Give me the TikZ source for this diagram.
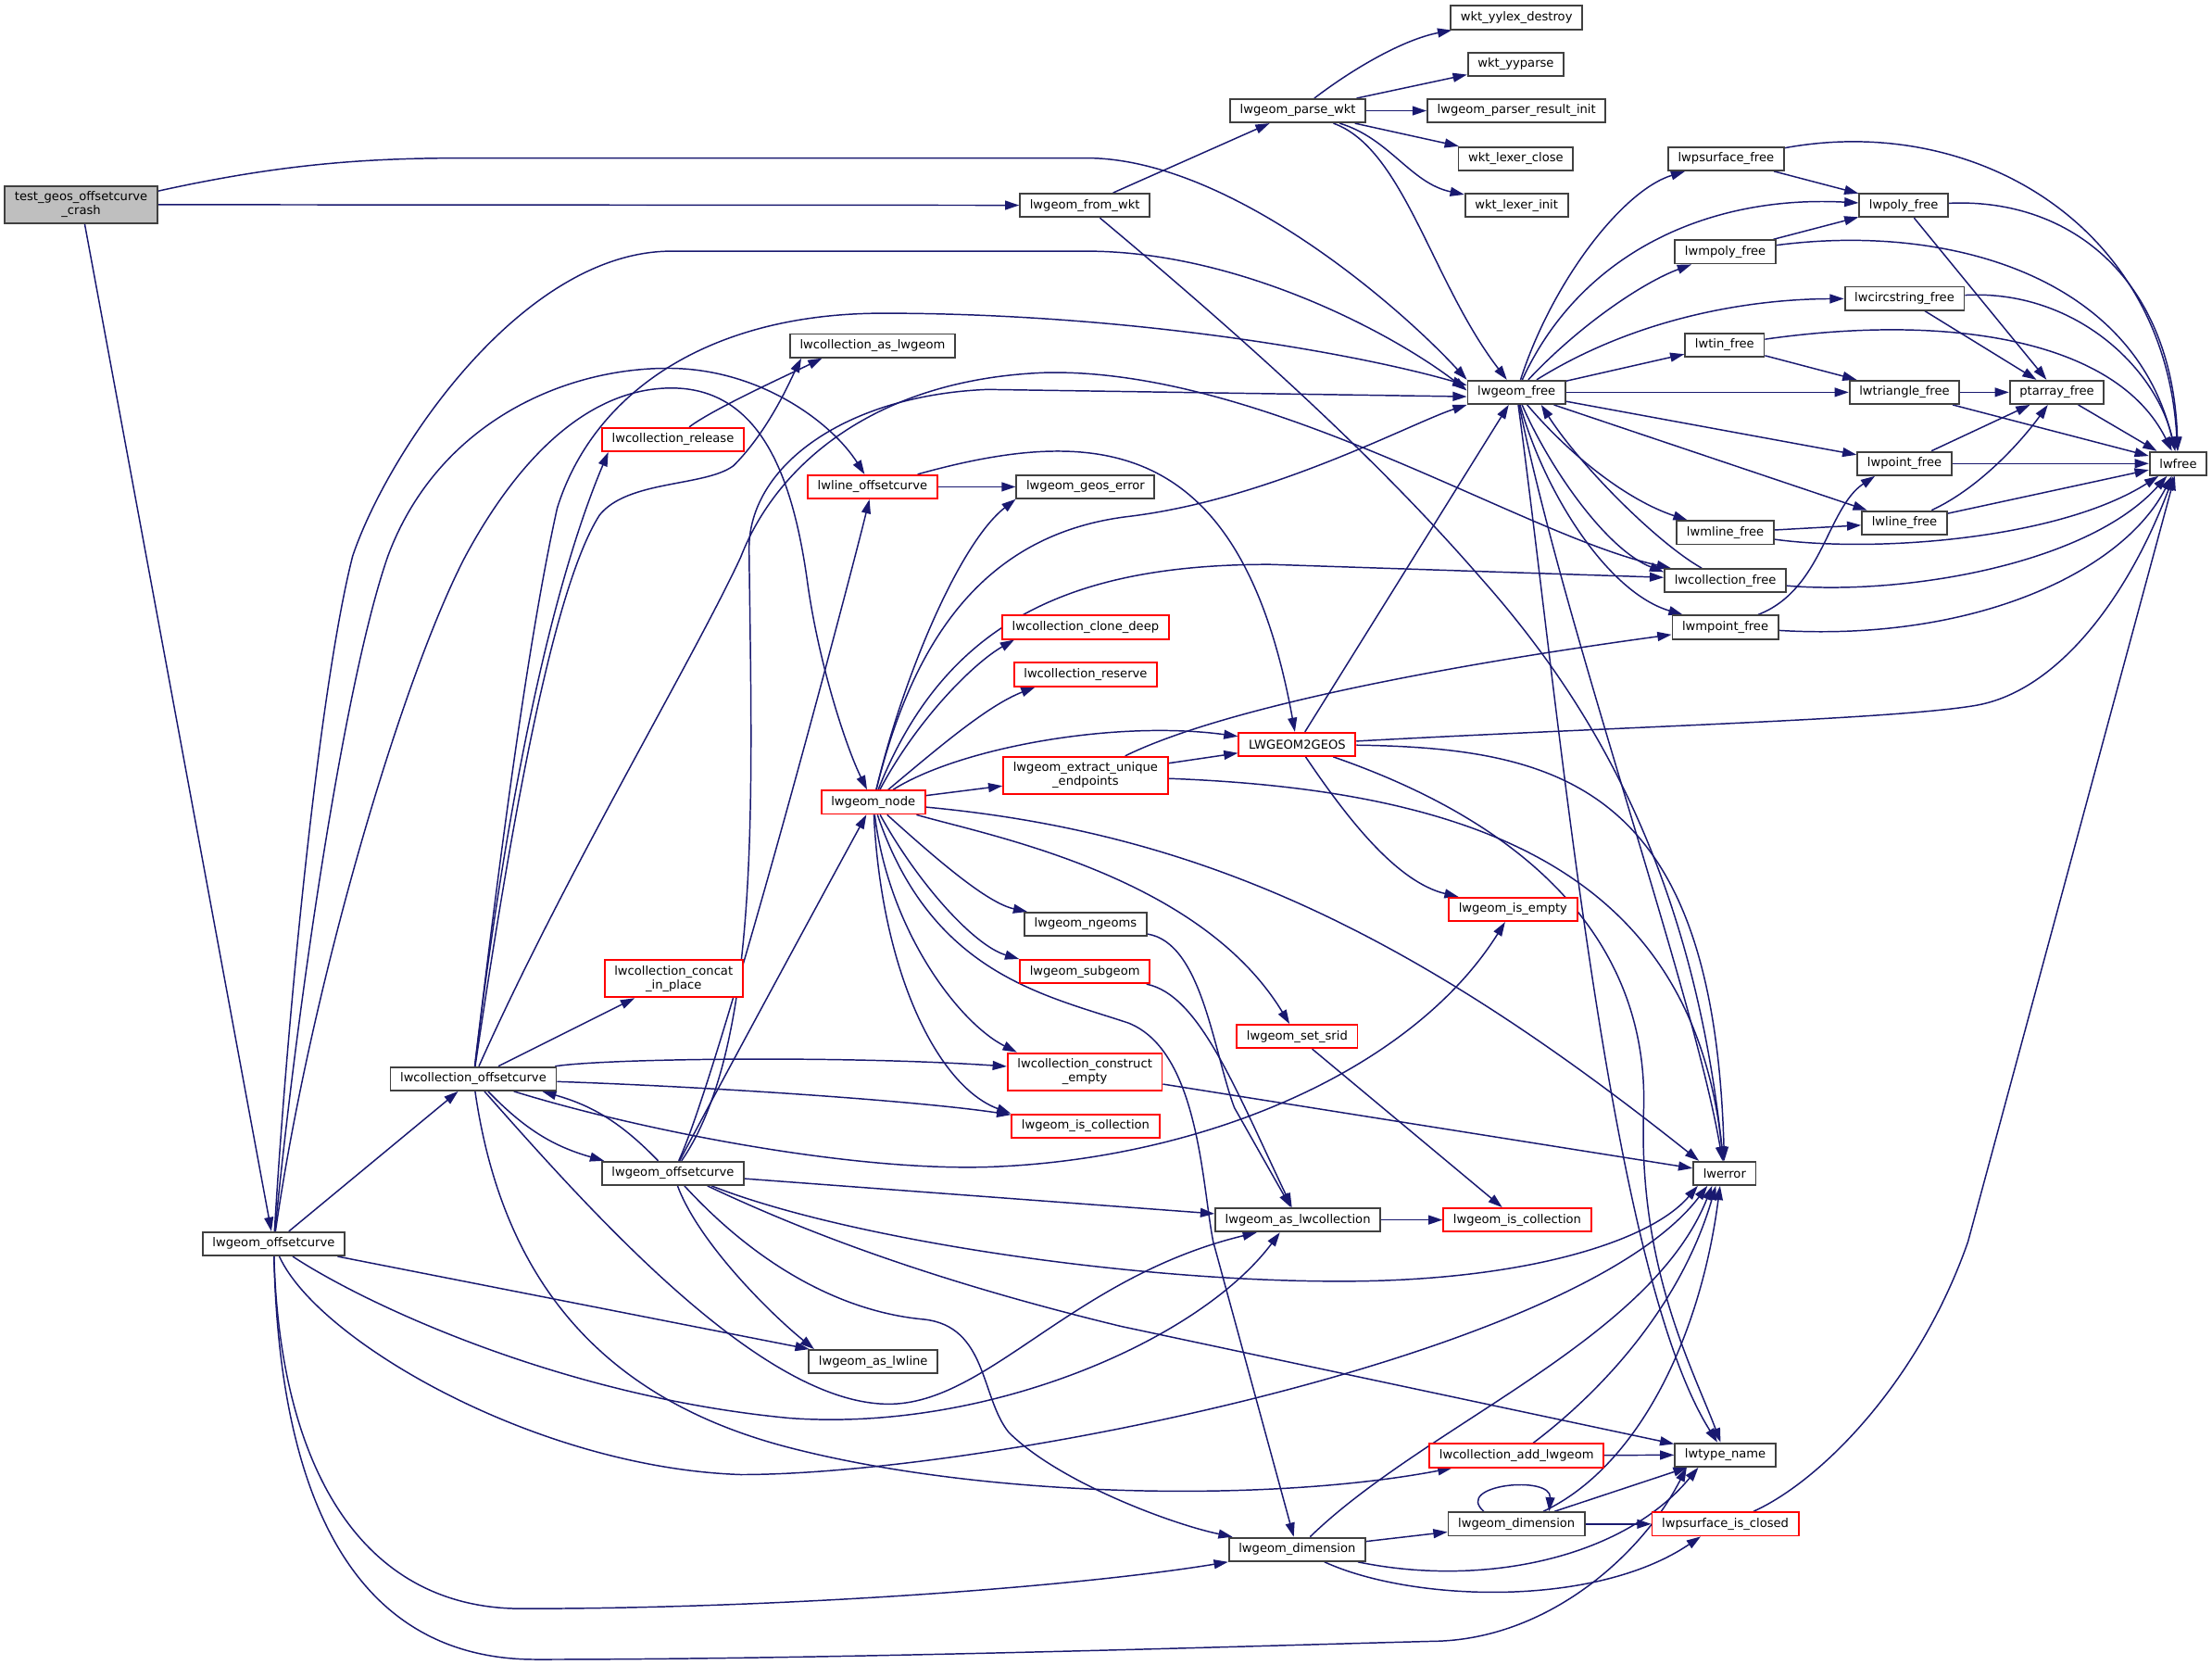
\documentclass[tikz,border=0pt]{standalone}
\usepackage{fontspec}
\setmainfont{DejaVu Sans}
\usetikzlibrary{arrows.meta, backgrounds}
\definecolor{edgeblue}{HTML}{191970}
\definecolor{boxgray}{HTML}{404040}
\definecolor{rootgray}{HTML}{BFBFBF}
\definecolor{truncred}{HTML}{FF0000}

\begin{document}
\begin{tikzpicture}[x=0.2mm, y=-0.2mm,
	fn/.style={draw=boxgray, fill=white, line width=0.7pt, font=\fontsize{4.9pt}{5.6pt}\selectfont,
		inner xsep=1.4mm, inner ysep=0.8mm, minimum height=3.3mm, align=center},
	fntrunc/.style={fn, draw=truncred},
	fnroot/.style={fn, fill=rootgray},
	call/.style={draw=edgeblue, line width=0.55pt, -{Triangle[length=2mm,width=1.3mm]}}]
	
	\useasboundingbox (0,0) rectangle (1568,1179.3);
	
	% Test entry and parser
	\node[fnroot] (crash) at (57.5,145) {test\_geos\_offsetcurve\\\_crash};
	\node[fn] (fromwkt) at (769,145.5) {lwgeom\_from\_wkt};
	\node[fn] (parsewkt) at (920,78.5) {lwgeom\_parse\_wkt};
	\node[fn] (yylex) at (1075,12.5) {wkt\_yylex\_destroy};
	\node[fn] (yyparse) at (1074.5,45.5) {wkt\_yyparse};
	\node[fn] (resinit) at (1075,78.5) {lwgeom\_parser\_result\_init};
	\node[fn] (lexclose) at (1074.5,112.5) {wkt\_lexer\_close};
	\node[fn] (lexinit) at (1075,145.5) {wkt\_lexer\_init};
	
	% Free functions
	\node[fn] (gfree) at (1075,278) {lwgeom\_free};
	\node[fn] (psurffree) at (1223.5,112.5) {lwpsurface\_free};
	\node[fn] (polyfree) at (1349.5,145.5) {lwpoly\_free};
	\node[fn] (mpolyfree) at (1223,178.5) {lwmpoly\_free};
	\node[fn] (circfree) at (1350,211.5) {lwcircstring\_free};
	\node[fn] (tinfree) at (1222.5,244.5) {lwtin\_free};
	\node[fn] (trifree) at (1350,278) {lwtriangle\_free};
	\node[fn] (ptafree) at (1458,278) {ptarray\_free};
	\node[fn] (lwfree) at (1544,328.5) {lwfree};
	\node[fn] (pointfree) at (1350,328.5) {lwpoint\_free};
	\node[fn] (linefree) at (1350,370.5) {lwline\_free};
	\node[fn] (mlinefree) at (1223,377.5) {lwmline\_free};
	\node[fn] (colfree) at (1223,411.5) {lwcollection\_free};
	\node[fn] (mpointfree) at (1223,444.5) {lwmpoint\_free};
	
	% Middle columns
	\node[fn] (asgeom) at (618.5,245) {lwcollection\_as\_lwgeom};
	\node[fntrunc] (release) at (477,311.5) {lwcollection\_release};
	\node[fntrunc] (lineoff) at (618.5,345) {lwline\_offsetcurve};
	\node[fn] (geoserr) at (769.5,345) {lwgeom\_geos\_error};
	\node[fntrunc] (clone) at (769.5,444.5) {lwcollection\_clone\_deep};
	\node[fntrunc] (reserve) at (769.5,478) {lwcollection\_reserve};
	\node[fntrunc] (togeos) at (919.5,527.5) {LWGEOM2GEOS};
	\node[fntrunc] (endpts) at (769.5,549.5) {lwgeom\_extract\_unique\\\_endpoints};
	\node[fntrunc] (gnode) at (619,568.5) {lwgeom\_node};
	\node[fntrunc] (isempty) at (1072.5,644.5) {lwgeom\_is\_empty};
	\node[fn] (ngeoms) at (769.5,655) {lwgeom\_ngeoms};
	\node[fntrunc] (subgeom) at (769,688.5) {lwgeom\_subgeom};
	\node[fntrunc] (setsrid) at (919.5,734.5) {lwgeom\_set\_srid};
	\node[fntrunc] (concat) at (477.5,693.5) {lwcollection\_concat\\\_in\_place};
	\node[fn] (coloff) at (335.5,764.5) {lwcollection\_offsetcurve};
	\node[fntrunc] (cempty) at (769,759.5) {lwcollection\_construct\\\_empty};
	\node[fntrunc] (iscollA) at (769.5,798) {lwgeom\_is\_collection};
	\node[fn] (offB) at (477,831.5) {lwgeom\_offsetcurve};
	\node[fn] (lwerror) at (1222.5,831.5) {lwerror};
	\node[fn] (aslwcoll) at (920,864.5) {lwgeom\_as\_lwcollection};
	\node[fntrunc] (iscollB) at (1075.5,864.5) {lwgeom\_is\_collection};
	\node[fn] (offA) at (194,881.5) {lwgeom\_offsetcurve};
	\node[fn] (aslwline) at (619,965) {lwgeom\_as\_lwline};
	\node[fntrunc] (addgeom) at (1075,1031.5) {lwcollection\_add\_lwgeom};
	\node[fn] (typename) at (1223,1031) {lwtype\_name};
	\node[fn] (dimA) at (919.5,1098) {lwgeom\_dimension};
	\node[fn] (dimB) at (1075,1080) {lwgeom\_dimension};
	\node[fntrunc] (psclosed) at (1223,1080) {lwpsurface\_is\_closed};
	
	\begin{scope}[on background layer]
		\fill[white] (0,0) rectangle (1568,1179.3);
		
		% Calls from the test
		\draw[call] (crash.10) .. controls (200,116) and (260,112) .. (330,112) -- (770,112) .. controls (870,112) and (990,215) .. (gfree.north west);
		\draw[call] (crash) -- (fromwkt);
		\draw[call] (crash) -- (offA);
		
		% Parser
		\draw[call] (fromwkt) -- (parsewkt);
		\draw[call] (fromwkt) .. controls (900,255) and (985,335) .. (1050,410) .. controls (1130,500) and (1200,620) .. (lwerror);
		\draw[call] (parsewkt) .. controls (960,48) and (995,28) .. (yylex);
		\draw[call] (parsewkt) -- (yyparse);
		\draw[call] (parsewkt) -- (resinit);
		\draw[call] (parsewkt) -- (lexclose);
		\draw[call] (parsewkt) .. controls (985,98) and (1000,130) .. (lexinit);
		\draw[call] (parsewkt) .. controls (995,105) and (1015,200) .. (gfree);
		
		% lwgeom_free
		\draw[call] (gfree) .. controls (1100,200) and (1150,135) .. (psurffree);
		\draw[call] (gfree) .. controls (1120,180) and (1210,138) .. (polyfree);
		\draw[call] (gfree) .. controls (1120,230) and (1165,200) .. (mpolyfree);
		\draw[call] (gfree) .. controls (1160,225) and (1240,212) .. (circfree);
		\draw[call] (gfree) -- (tinfree);
		\draw[call] (gfree) -- (trifree);
		\draw[call] (gfree) -- (pointfree);
		\draw[call] (gfree) -- (linefree);
		\draw[call] (gfree) .. controls (1115,325) and (1155,355) .. (mlinefree);
		\draw[call] (gfree) .. controls (1100,335) and (1140,390) .. (colfree.172);
		\draw[call] (colfree.152) .. controls (1175,385) and (1120,330) .. (gfree.-27);
		\draw[call] (gfree) .. controls (1095,350) and (1140,420) .. (mpointfree);
		\draw[call] (gfree) .. controls (1110,450) and (1200,700) .. (lwerror);
		\draw[call] (gfree) .. controls (1105,500) and (1140,900) .. (typename);
		
		% Small free functions
		\draw[call] (psurffree) -- (polyfree);
		\draw[call] (psurffree) .. controls (1400,80) and (1535,160) .. (lwfree);
		\draw[call] (mpolyfree) -- (polyfree);
		\draw[call] (mpolyfree) .. controls (1380,158) and (1512,195) .. (lwfree);
		\draw[call] (polyfree) -- (ptafree);
		\draw[call] (polyfree) .. controls (1470,140) and (1540,200) .. (lwfree);
		\draw[call] (circfree) -- (ptafree);
		\draw[call] (circfree) .. controls (1470,205) and (1528,260) .. (lwfree);
		\draw[call] (tinfree) -- (trifree);
		\draw[call] (tinfree) .. controls (1380,222) and (1500,240) .. (lwfree);
		\draw[call] (trifree) -- (ptafree);
		\draw[call] (trifree) -- (lwfree);
		\draw[call] (ptafree) -- (lwfree);
		\draw[call] (pointfree) -- (ptafree);
		\draw[call] (pointfree) -- (lwfree);
		\draw[call] (linefree) .. controls (1405,345) and (1435,310) .. (ptafree);
		\draw[call] (linefree) -- (lwfree);
		\draw[call] (mlinefree) -- (linefree);
		\draw[call] (mlinefree) .. controls (1330,392) and (1460,382) .. (lwfree);
		\draw[call] (colfree) .. controls (1350,422) and (1480,400) .. (lwfree);
		\draw[call] (mpointfree) .. controls (1400,455) and (1505,405) .. (lwfree);
		\draw[call] (mpointfree) .. controls (1292,418) and (1295,360) .. (pointfree.203);
		
		% Outer lwgeom_offsetcurve
		\draw[call] (offA) -- (coloff);
		\draw[call] (offA) .. controls (205,700) and (228,480) .. (250,394) .. controls (275,320) and (370,178) .. (476,178) -- (770,178) .. controls (880,178) and (990,238) .. (gfree.178);
		\draw[call] (offA) .. controls (212,700) and (245,480) .. (275,394) .. controls (310,300) and (400,260) .. (476,261) .. controls (540,262) and (590,300) .. (lineoff);
		\draw[call] (offA) .. controls (220,700) and (285,480) .. (330,394) .. controls (370,320) and (420,275) .. (476,275) .. controls (540,275) and (562,340) .. (572,410) .. controls (580,470) and (600,530) .. (gnode);
		\draw[call] (offA) -- (aslwline);
		\draw[call] (offA) .. controls (260,925) and (400,990) .. (560,1005) .. controls (700,1015) and (850,950) .. (aslwcoll.215);
		\draw[call] (offA) .. controls (225,950) and (380,1040) .. (525,1045) .. controls (700,1045) and (1120,960) .. (lwerror.216);
		\draw[call] (offA) .. controls (198,1030) and (250,1140) .. (370,1140) .. controls (550,1140) and (760,1125) .. (dimA.south west);
		\draw[call] (offA) .. controls (198,1060) and (250,1176) .. (380,1176) .. controls (600,1176) and (900,1166) .. (1020,1163) .. controls (1100,1160) and (1165,1100) .. (typename.198);
		
		% Inner lwgeom_offsetcurve
		\draw[call] (coloff) to[bend right=15] (offB);
		\draw[call] (offB) to[bend right=15] (coloff);
		\draw[call] (offB) .. controls (510,760) and (600,420) .. (lineoff);
		\draw[call] (offB) .. controls (515,760) and (580,640) .. (gnode);
		\draw[call] (offB) .. controls (540,740) and (533,560) .. (531,390) .. controls (530,330) and (600,280) .. (700,276) -- (gfree.185);
		\draw[call] (offB) .. controls (495,880) and (545,930) .. (aslwline.168);
		\draw[call] (offB) .. controls (540,900) and (600,930) .. (655,935) .. controls (700,940) and (695,990) .. (715,1015) .. controls (750,1050) and (830,1080) .. (dimA.169);
		\draw[call] (offB.-18) .. controls (600,878) and (800,908) .. (950,908) .. controls (1080,908) and (1170,880) .. (lwerror.205);
		\draw[call] (offB) -- (aslwcoll);
		\draw[call] (offB.-20) .. controls (560,868) and (650,905) .. (795,940) -- (typename);
		
		% lwcollection_offsetcurve
		\draw[call] (coloff) .. controls (355,600) and (375,450) .. (395,360) .. controls (420,280) and (500,222) .. (626,222) .. controls (800,222) and (960,250) .. (gfree.172);
		\draw[call] (coloff) .. controls (355,600) and (385,430) .. (release.191);
		\draw[call] (coloff) .. controls (360,600) and (390,420) .. (425,365) .. controls (445,340) and (500,345) .. (520,330) .. controls (545,305) and (560,270) .. (asgeom.190);
		\draw[call] (release) .. controls (505,290) and (560,265) .. (asgeom.194);
		\draw[call] (coloff) -- (concat);
		\draw[call] (coloff) .. controls (430,750) and (600,748) .. (cempty);
		\draw[call] (coloff) .. controls (500,770) and (650,780) .. (iscollA);
		\draw[call] (coloff) .. controls (450,800) and (600,830) .. (700,827) .. controls (850,822) and (1000,760) .. (isempty);
		\draw[call] (coloff) .. controls (420,860) and (540,995) .. (630,995) .. controls (700,995) and (760,905) .. (aslwcoll.197);
		\draw[call] (coloff) .. controls (355,900) and (420,990) .. (560,1026) .. controls (700,1062) and (900,1065) .. (addgeom.191);
		\draw[call] (coloff) .. controls (400,620) and (490,470) .. (525,395) .. controls (550,330) and (620,268) .. (743,264) .. controls (900,262) and (1080,380) .. (colfree.167);
		
		% lwgeom_node
		\draw[call] (gnode) .. controls (640,480) and (680,385) .. (geoserr.190);
		\draw[call] (gnode) .. controls (648,450) and (700,378) .. (800,366) .. controls (900,354) and (1000,300) .. (gfree.south west);
		\draw[call] (gnode) .. controls (650,510) and (690,470) .. (clone.190);
		\draw[call] (gnode) .. controls (665,530) and (700,500) .. (reserve.194);
		\draw[call] (gnode) .. controls (680,530) and (790,510) .. (togeos);
		\draw[call] (gnode) -- (endpts);
		\draw[call] (gnode) .. controls (850,590) and (1000,660) .. (lwerror.154);
		\draw[call] (gnode) .. controls (665,610) and (700,640) .. (ngeoms);
		\draw[call] (gnode) .. controls (650,625) and (690,670) .. (subgeom.north west);
		\draw[call] (gnode) .. controls (700,592) and (850,620) .. (setsrid);
		\draw[call] (gnode) .. controls (630,660) and (680,725) .. (cempty.164);
		\draw[call] (gnode) .. controls (625,690) and (665,770) .. (iscollA.north west);
		\draw[call] (gnode) .. controls (660,690) and (740,705) .. (800,725) .. controls (850,745) and (852,840) .. (860,880) -- (dimA);
		\draw[call] (gnode) .. controls (670,440) and (760,400) .. (900,400) -- (colfree.177);
		
		% lwline_offsetcurve and LWGEOM2GEOS
		\draw[call] (lineoff) -- (geoserr);
		\draw[call] (lineoff) .. controls (780,300) and (880,310) .. (togeos);
		\draw[call] (togeos) -- (gfree);
		\draw[call] (togeos) .. controls (955,580) and (990,625) .. (isempty.167);
		\draw[call] (togeos) .. controls (1150,515) and (1340,510) .. (1400,500) .. controls (1460,490) and (1510,420) .. (lwfree);
		\draw[call] (togeos) .. controls (1110,530) and (1215,560) .. (lwerror);
		\draw[call] (togeos) .. controls (1100,590) and (1170,680) .. (1165,790) .. controls (1162,900) and (1200,970) .. (typename);
		\draw[call] (endpts) -- (togeos);
		\draw[call] (endpts) .. controls (860,505) and (1000,475) .. (mpointfree);
		\draw[call] (endpts) .. controls (1050,560) and (1200,620) .. (lwerror);
		
		% Lower part
		\draw[call] (ngeoms) .. controls (852,668) and (860,745) .. (875,785) -- (aslwcoll);
		\draw[call] (subgeom) .. controls (850,705) and (875,770) .. (aslwcoll);
		\draw[call] (setsrid) -- (iscollB);
		\draw[call] (aslwcoll) -- (iscollB);
		\draw[call] (cempty) -- (lwerror);
		\draw[call] (addgeom) -- (typename);
		\draw[call] (addgeom) .. controls (1130,990) and (1190,930) .. (lwerror.235);
		\draw[call] (dimA) -- (dimB);
		\draw[call] (dimA) .. controls (1010,1010) and (1170,950) .. (lwerror.225);
		\draw[call] (dimA) .. controls (1050,1125) and (1150,1105) .. (typename.205);
		\draw[call] (dimA) .. controls (1000,1135) and (1130,1140) .. (psclosed.207);
		\draw[call] (dimB) -- (psclosed);
		\draw[call] (dimB) -- (typename);
		\draw[call] (dimB) .. controls (1160,1040) and (1205,950) .. (lwerror.250);
		\draw[call] (dimB.159) .. controls (1030,1052) and (1100,1045) .. (dimB.21);
		\draw[call] (psclosed) .. controls (1290,1050) and (1360,980) .. (1395,880) -- (lwfree);
	\end{scope}
	
\end{tikzpicture}
\end{document}
